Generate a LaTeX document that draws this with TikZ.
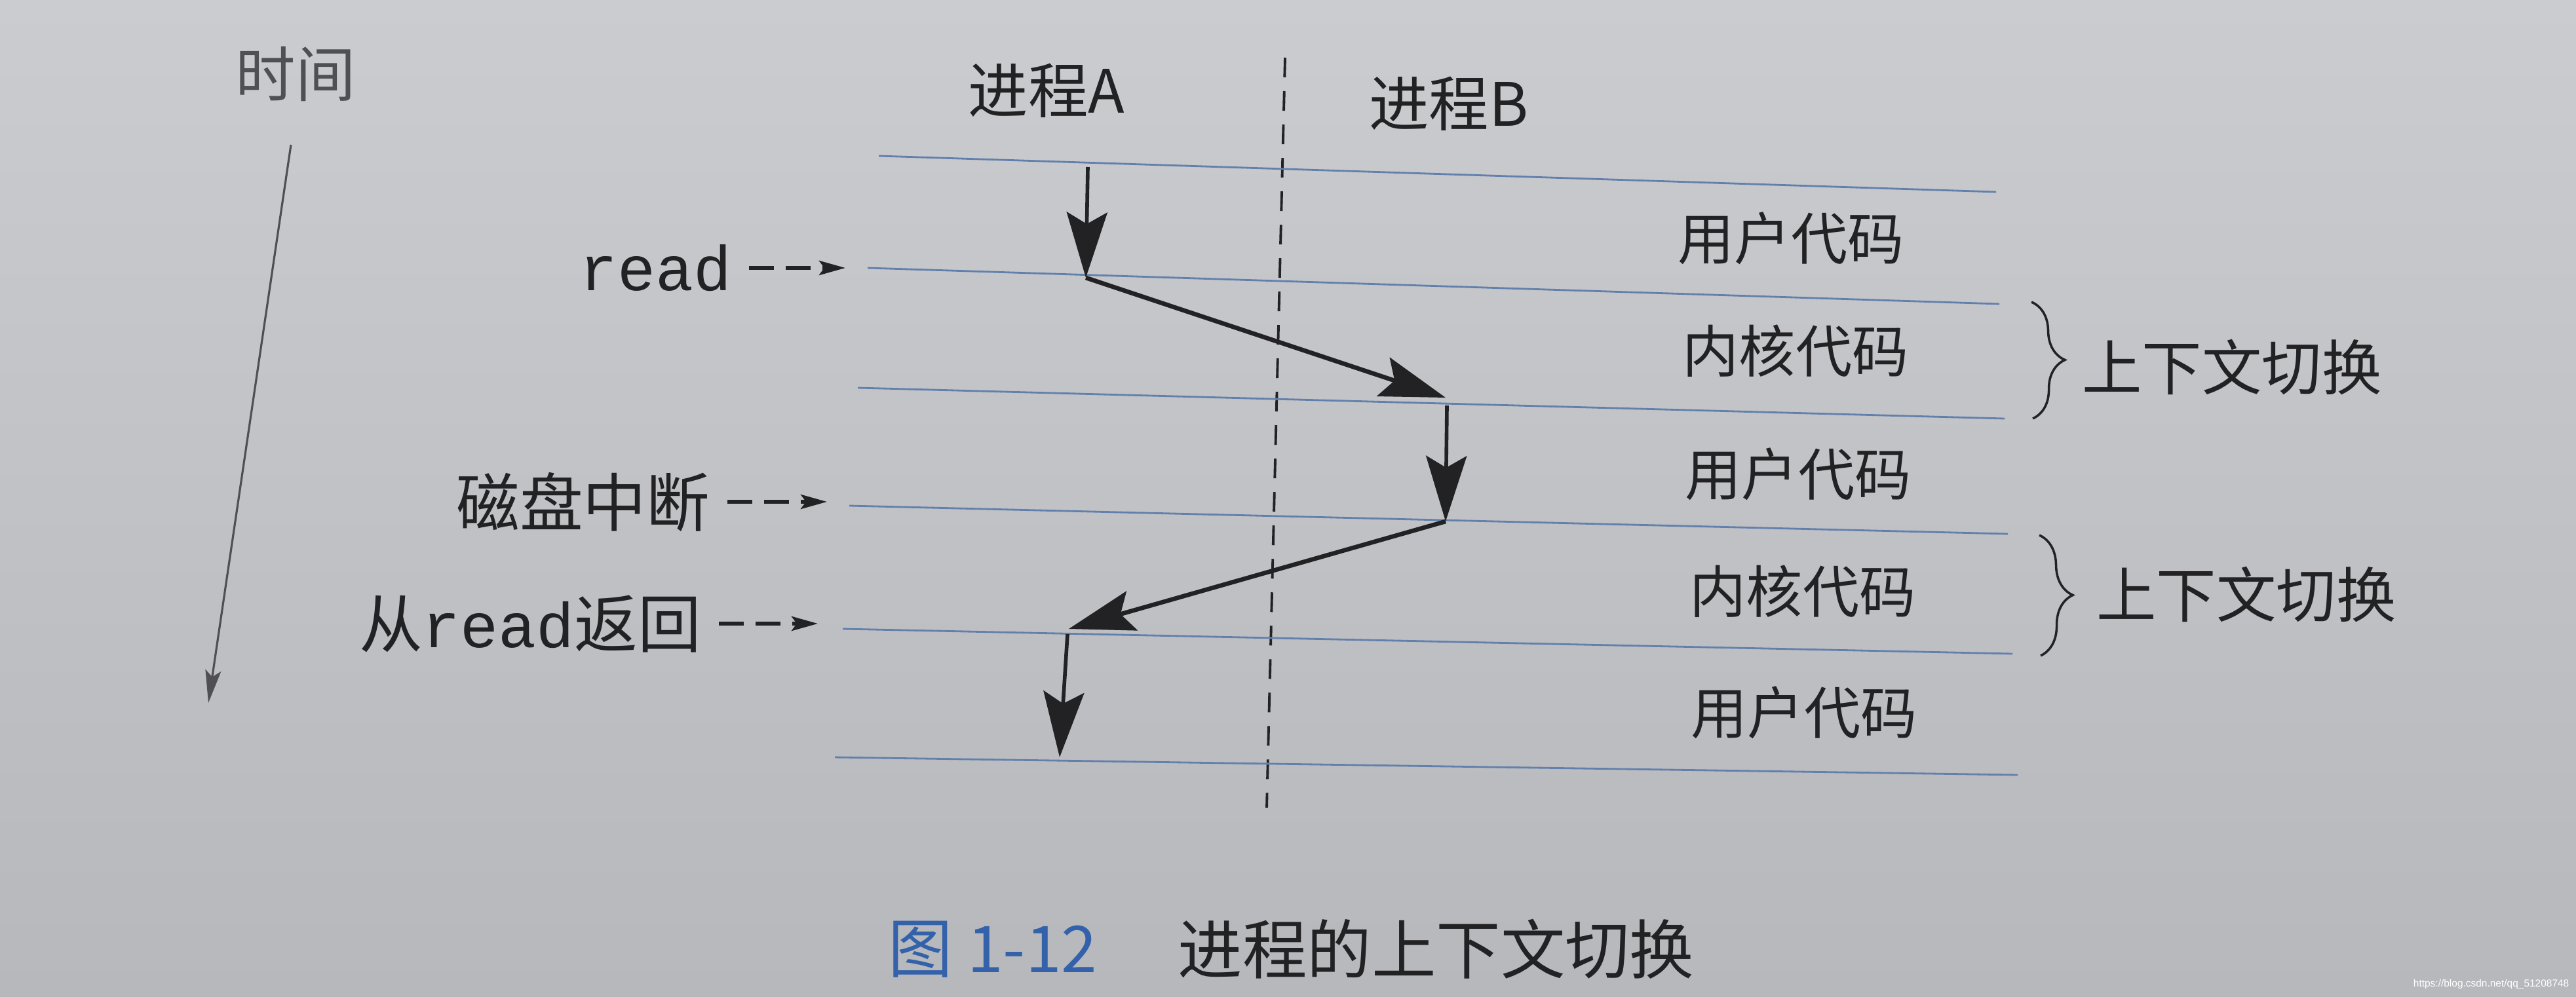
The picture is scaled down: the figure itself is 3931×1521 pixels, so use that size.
\documentclass[tikz,border=0pt]{standalone}
\usepackage{fontspec}
\setmainfont{Noto Sans CJK SC}
\newfontfamily\monofont{Liberation Mono}
\newfontfamily\wmfont{Liberation Sans}
\usetikzlibrary{arrows.meta,decorations.pathreplacing}
\definecolor{paperlight}{RGB}{203,204,207}
\definecolor{paperdark}{RGB}{183,184,188}
\definecolor{ink}{RGB}{34,34,36}
\definecolor{inkgray}{RGB}{80,80,84}
\definecolor{rulecol}{RGB}{98,128,172}
\definecolor{capblue}{RGB}{52,98,170}
\begin{document}
\begin{tikzpicture}[x=0.01cm,y=-0.01cm,
  lbl/.style={text=ink, inner sep=0pt, font=\fontsize{24.5}{29}\selectfont},
  lefttxt/.style={text=ink, inner ysep=0pt, inner xsep=0.26cm, anchor=east, font=\fontsize{27.5}{32}\selectfont},
  timeaxis/.style={draw=inkgray, line width=0.9pt, -{Stealth[length=0.5cm,width=0.24cm,inset=0.1cm]}},
  divider/.style={draw=ink, line width=1.1pt, dash pattern=on 0.3cm off 0.21cm},
  rulestyle/.style={draw=rulecol, line width=0.8pt},
  flowv/.style={draw=ink, line width=1.6pt, -{Stealth[length=1.0cm,width=0.62cm,inset=0.18cm]}},
  flowd/.style={flowv, line width=1.9pt},
  labarrow/.style={draw=ink, line width=1.6pt, dash pattern=on 0.38cm off 0.18cm, -{Stealth[length=0.4cm,width=0.22cm,inset=0.08cm]}},
  bracestyle/.style={draw=ink, line width=1pt, decorate, decoration={brace, amplitude=0.5cm}}]
\useasboundingbox (0,0) rectangle (3931,1521);
\shade[top color=paperlight, bottom color=paperdark] (0,0) rectangle (3931,1521);

% time axis
\node[lbl, text=inkgray, font=\fontsize{26}{30}\selectfont] (time) at (451,113) {时间};
\coordinate (t1) at (444,221);
\coordinate (t2) at (318,1073);
\draw[timeaxis] (t1) -- (t2);

% process headers
\node[lbl, font=\fontsize{26}{30}\selectfont] (pa) at (1597,138) {进程A};
\node[lbl, font=\fontsize{26}{30}\selectfont] (pb) at (2211,158) {进程B};

% divider
\coordinate (d1) at (1961,88);
\coordinate (d2) at (1933,1233);
\draw[divider] (d1) -- (d2);

% horizontal rules
\coordinate (l1a) at (1341,238); \coordinate (l1b) at (3046,293);
\coordinate (l2a) at (1324,409); \coordinate (l2b) at (3051,464);
\coordinate (l3a) at (1309,592); \coordinate (l3b) at (3059,639);
\coordinate (l4a) at (1296,772); \coordinate (l4b) at (3064,815);
\coordinate (l5a) at (1286,960); \coordinate (l5b) at (3071,998);
\coordinate (l6a) at (1274,1156); \coordinate (l6b) at (3079,1183);
\foreach \i in {1,...,6} {\draw[rulestyle] (l\i a) -- (l\i b);}

% right labels
\node[lbl] (u1) at (2733,364) {用户代码};
\node[lbl] (k1) at (2740,536) {内核代码};
\node[lbl] (u2) at (2744,724) {用户代码};
\node[lbl] (k2) at (2751,903) {内核代码};
\node[lbl] (u3) at (2753,1088) {用户代码};

% braces
\coordinate (b1a) at (3100,461); \coordinate (b1b) at (3102,639);
\coordinate (b2a) at (3112,817); \coordinate (b2b) at (3114,1001);
\draw[bracestyle] (b1a) -- (b1b);
\draw[bracestyle] (b2a) -- (b2b);
\node[lbl, font=\fontsize{26}{30}\selectfont] (cs1) at (3406,560) {上下文切换};
\node[lbl, font=\fontsize{26}{30}\selectfont] (cs2) at (3428,907) {上下文切换};

% left labels
\node[lefttxt, font=\monofont\fontsize{27.5}{32}\selectfont] (read) at (1143,409) {read};
\node[lefttxt] (disk) at (1110,766) {磁盘中断};
\node[lefttxt] (ret) at (1097,952) {从{\monofont read}返回};
\coordinate (re) at (1290,0);
\coordinate (de) at (1262,0);
\coordinate (te) at (1248,0);
\draw[labarrow] (read.east) -- (read.east -| re);
\draw[labarrow] (disk.east) -- (disk.east -| de);
\draw[labarrow] (ret.east) -- (ret.east -| te);

% flow arrows
\coordinate (a1) at (1660,255);
\coordinate (a2) at (1657,424);
\coordinate (b2) at (2206,607);
\coordinate (c1) at (2208,619);
\coordinate (c2) at (2206,796);
\coordinate (e0) at (1631,960);
\coordinate (e1) at (1629,968);
\coordinate (e2) at (1617,1156);
\draw[flowv] (a1) -- (a2);
\draw[flowd] (a2) -- (b2);
\draw[flowv] (c1) -- (c2);
\draw[flowd] (c2) -- (e0);
\draw[flowv] (e1) -- (e2);

% caption
\node[anchor=west, inner sep=0pt, text=capblue, font=\fontsize{28}{32}\selectfont] (fig) at (1355,1449) {图 1-12};
\node[anchor=west, inner sep=0pt, text=ink, font=\fontsize{28}{32}\selectfont] (cap) at (1797,1449) {进程的上下文切换};

% watermark
\node[anchor=east, inner sep=0pt, text=white, font=\wmfont\fontsize{4.4}{5}\selectfont] (wm) at (3921,1502) {https://blog.csdn.net/qq\_51208748};
\end{tikzpicture}
\end{document}
